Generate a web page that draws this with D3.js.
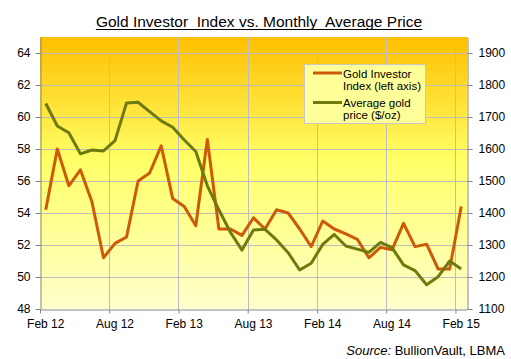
<!DOCTYPE html>
<html>
<head>
<meta charset="utf-8">
<script src="https://cdn.jsdelivr.net/npm/d3@7"></script>
<style>
  html, body { margin: 0; padding: 0; background: #ffffff; }
  svg { display: block; font-family: "Liberation Sans", Arial, sans-serif; }
</style>
</head>
<body>
<svg id="chart" width="511" height="359"></svg>
<script>
// ---- Data ----
const months = [
  "Feb 12","Mar 12","Apr 12","May 12","Jun 12","Jul 12","Aug 12","Sep 12","Oct 12","Nov 12","Dec 12","Jan 13",
  "Feb 13","Mar 13","Apr 13","May 13","Jun 13","Jul 13","Aug 13","Sep 13","Oct 13","Nov 13","Dec 13","Jan 14",
  "Feb 14","Mar 14","Apr 14","May 14","Jun 14","Jul 14","Aug 14","Sep 14","Oct 14","Nov 14","Dec 14","Jan 15",
  "Feb 15"
];
const investorIndex = [
  54.2, 58.0, 55.7, 56.7, 54.7, 51.2, 52.1, 52.5, 56.0, 56.5, 58.2, 54.9,
  54.4, 53.2, 58.6, 53.0, 53.0, 52.6, 53.7, 53.0, 54.2, 54.0, 53.0, 51.9,
  53.5, 53.0, 52.7, 52.35, 51.2, 51.85, 51.7, 53.35, 51.9, 52.05, 50.5, 50.5,
  54.4
];
const goldPrice = [
  1742, 1672, 1651, 1585, 1597, 1594, 1626, 1744, 1746, 1717, 1688, 1668,
  1628, 1592, 1485, 1410, 1340, 1284, 1347, 1349, 1316, 1276, 1222, 1243,
  1302, 1333, 1297, 1287, 1277, 1308, 1292, 1238, 1220, 1176, 1201, 1250,
  1225
];
const xTickLabels = ["Feb 12","Aug 12","Feb 13","Aug 13","Feb 14","Aug 14","Feb 15"];
const leftTicks = [48, 50, 52, 54, 56, 58, 60, 62, 64];
const rightTicks = [1100, 1200, 1300, 1400, 1500, 1600, 1700, 1800, 1900];
const seriesNames = [["Gold Investor", "Index (left axis)"], ["Average gold", "price ($/oz)"]];
const titleText = "Gold Investor  Index vs. Monthly  Average Price";

// ---- Layout ----
const svg = d3.select("#chart");
const L = 40, R = 467, T = 37, B = 309;
const orange = "#CC5A08", olive = "#6F7A0C";
const gridColor = "#BDBDBD", axisColor = "#868686";

const x = d3.scaleLinear().domain([0, months.length]).range([L, R]);
const yL = d3.scaleLinear().domain([48, 65]).range([B, T]);
const yR = d3.scaleLinear().domain([1100, 1950]).range([B, T]);

// background gradient
const defs = svg.append("defs");
const grad = defs.append("linearGradient").attr("id", "bg")
  .attr("x1", 0).attr("y1", 0).attr("x2", 0).attr("y2", 1);
grad.append("stop").attr("offset", "0%").attr("stop-color", "#FFBF00");
grad.append("stop").attr("offset", "45%").attr("stop-color", "#FFFF66");
grad.append("stop").attr("offset", "100%").attr("stop-color", "#FFFFCC");

svg.append("rect").attr("x", L).attr("y", T).attr("width", R - L).attr("height", B - T)
  .attr("fill", "url(#bg)");

// gridlines
const boundaryIdx = xTickLabels.map(lbl => months.indexOf(lbl));
svg.append("g").selectAll("line").data(leftTicks.filter(v => v > 48)).join("line")
  .attr("x1", L).attr("x2", R).attr("y1", d => yL(d) + 0.5).attr("y2", d => yL(d) + 0.5)
  .attr("stroke", gridColor).attr("stroke-width", 1);
svg.append("g").selectAll("line").data(boundaryIdx.filter(i => i > 0)).join("line")
  .attr("x1", d => Math.round(x(d)) + 0.5).attr("x2", d => Math.round(x(d)) + 0.5)
  .attr("y1", T).attr("y2", B)
  .attr("stroke", gridColor).attr("stroke-width", 1);

// axes
function styleAxis(g) {
  g.selectAll("path.domain").attr("stroke", axisColor);
  g.selectAll(".tick line").attr("stroke", axisColor);
  g.selectAll(".tick text").attr("fill", "#000").style("font-size", "12px")
    .style("font-family", "'Liberation Sans', Arial, sans-serif");
}
svg.append("g").attr("transform", `translate(${L + 0.5},0)`)
  .call(d3.axisLeft(yL).tickValues(leftTicks).tickFormat(d3.format("d")).tickSize(5).tickPadding(5).tickSizeOuter(0))
  .call(styleAxis);
svg.append("g").attr("transform", `translate(${R + 0.5},0)`)
  .call(d3.axisRight(yR).tickValues(rightTicks).tickFormat(d3.format("d")).tickSize(5).tickPadding(6).tickSizeOuter(0))
  .call(styleAxis);
svg.append("g").attr("transform", `translate(0,${B + 0.5})`)
  .call(d3.axisBottom(x).tickValues(boundaryIdx).tickFormat("").tickSize(4).tickSizeOuter(0))
  .call(styleAxis);
// x labels centered on the month's data point
svg.append("g").selectAll("text").data(xTickLabels).join("text")
  .attr("x", d => x(months.indexOf(d) + 0.5))
  .attr("y", 328)
  .attr("text-anchor", "middle")
  .style("font-size", "12px")
  .text(d => d);

// lines
const lineL = d3.line().x((d, i) => x(i + 0.5)).y(d => yL(d));
const lineR = d3.line().x((d, i) => x(i + 0.5)).y(d => yR(d));
svg.append("path").datum(investorIndex).attr("d", lineL)
  .attr("fill", "none").attr("stroke", orange).attr("stroke-width", 3)
  .attr("stroke-linejoin", "round");
svg.append("path").datum(goldPrice).attr("d", lineR)
  .attr("fill", "none").attr("stroke", olive).attr("stroke-width", 3)
  .attr("stroke-linejoin", "round");

// legend
const lg = svg.append("g");
lg.append("rect").attr("x", 304.5).attr("y", 64.5).attr("width", 121).attr("height", 59)
  .attr("fill", "#FFFF99").attr("stroke", "#C8C8C8").attr("stroke-width", 1);
[orange, olive].forEach((c, k) => {
  const yy = 73 + k * 29.5;
  lg.append("line").attr("x1", 313).attr("x2", 342).attr("y1", yy).attr("y2", yy)
    .attr("stroke", c).attr("stroke-width", 3);
  seriesNames[k].forEach((t, j) => {
    lg.append("text").attr("x", 343).attr("y", yy + 4.5 + j * 12)
      .style("font-size", "11.5px").text(t);
  });
});

// title
const title = svg.append("text").attr("x", 259).attr("y", 27)
  .attr("text-anchor", "middle").style("font-size", "15.5px").style("font-weight", "normal")
  .style("white-space", "pre").attr("xml:space", "preserve")
  .text(titleText);
const tw = title.node().getComputedTextLength();
svg.append("line").attr("x1", 259 - tw / 2).attr("x2", 259 + tw / 2)
  .attr("y1", 29.5).attr("y2", 29.5).attr("stroke", "#000").attr("stroke-width", 1);

// source
const src = svg.append("text").attr("x", 505).attr("y", 355).attr("text-anchor", "end")
  .style("font-size", "13px");
src.append("tspan").style("font-style", "italic").text("Source:");
src.append("tspan").text(" BullionVault, LBMA");
</script>
</body>
</html>
